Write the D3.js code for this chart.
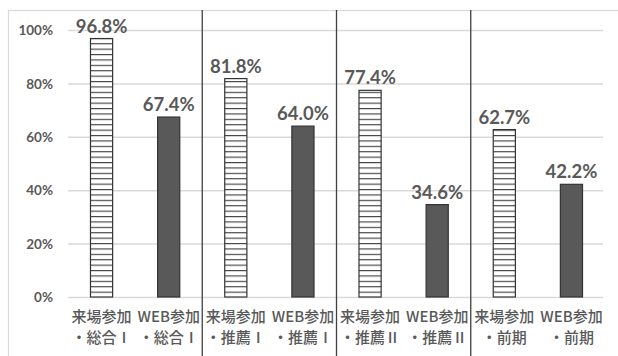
<!DOCTYPE html>
<html>
<head>
<meta charset="utf-8">
<script src="https://cdn.jsdelivr.net/npm/d3@7"></script>
<style>
  body { margin: 0; background: #fff; }
  .tick text { font-family: Lato, "Open Sans", sans-serif; font-weight: bold; font-size: 13.5px; fill: #595959; }
  .valLabel { font-family: Lato, "Open Sans", sans-serif; font-weight: bold; font-size: 18.5px; fill: #595959; }
  .catLabel { font-family: "Noto Sans CJK JP", sans-serif; font-weight: 500; font-size: 15px; fill: #595959; }
</style>
</head>
<body>
<svg id="myGraph" width="618" height="356"></svg>
<script>
// データ
var catLine1 = ["来場参加", "WEB参加", "来場参加", "WEB参加", "来場参加", "WEB参加", "来場参加", "WEB参加"];
var catLine2 = ["・総合Ⅰ", "・総合Ⅰ", "・推薦Ⅰ", "・推薦Ⅰ", "・推薦Ⅱ", "・推薦Ⅱ", "・前期", "・前期"];
var values = [96.8, 67.4, 81.8, 64.0, 77.4, 34.6, 62.7, 42.2];
var kinds = ["venue", "web", "venue", "web", "venue", "web", "venue", "web"];
var yTicks = [0, 20, 40, 60, 80, 100];

// レイアウト
var plotLeft = 68, plotRight = 605, plotTop = 30, plotBottom = 297;

var svg = d3.select("#myGraph");

// 外枠
svg.append("rect")
  .attr("x", 8.5).attr("y", 10.5)
  .attr("width", 700).attr("height", 400)
  .attr("fill", "none").attr("stroke", "#d9d9d9").attr("stroke-width", 1.2);

// ハッチング
var pat = svg.append("defs").append("pattern")
  .attr("id", "hatch")
  .attr("patternUnits", "userSpaceOnUse")
  .attr("width", 40).attr("height", 5.4);
pat.append("rect").attr("width", 40).attr("height", 5.4).attr("fill", "#fff");
pat.append("line")
  .attr("x1", 0).attr("x2", 40).attr("y1", 0.6).attr("y2", 0.6)
  .attr("stroke", "#404040").attr("stroke-width", 1.1);

var x = d3.scaleBand()
  .domain(d3.range(values.length))
  .range([plotLeft, plotRight])
  .paddingInner(0.67)
  .paddingOuter(0.335);

var y = d3.scaleLinear()
  .domain([0, 100])
  .range([plotBottom, plotTop]);

// 目盛り
var yAxis = d3.axisLeft(y)
  .tickValues(yTicks)
  .tickSize(-(plotRight - plotLeft - 2))
  .tickFormat(function(d){ return d + "%"; });

var g = svg.append("g")
  .attr("transform", "translate(" + plotLeft + ",0)")
  .call(yAxis);
g.select(".domain").remove();
g.selectAll(".tick line").attr("stroke", "#d9d9d9").attr("stroke-width", 1.5);
g.selectAll(".tick text").attr("x", -15).attr("dy", "0.35em");

// 区切り線
var step = (plotRight - plotLeft) / values.length;
d3.range(2, values.length, 2).forEach(function(i){
  svg.append("line")
    .attr("x1", plotLeft + i * step).attr("x2", plotLeft + i * step)
    .attr("y1", 10).attr("y2", 356)
    .attr("stroke", "#404040").attr("stroke-width", 1.3);
});

// 棒グラフ
svg.selectAll("rect.bar")
  .data(values)
  .enter()
  .append("rect")
  .attr("class", "bar")
  .attr("x", function(d, i){ return x(i); })
  .attr("y", function(d){ return y(d); })
  .attr("width", x.bandwidth())
  .attr("height", function(d){ return plotBottom - y(d); })
  .attr("fill", function(d, i){ return kinds[i] === "venue" ? "url(#hatch)" : "#595959"; })
  .attr("stroke", "#333")
  .attr("stroke-width", 1.2);

// 値ラベル
svg.selectAll("text.valLabel")
  .data(values)
  .enter()
  .append("text")
  .attr("class", "valLabel")
  .attr("x", function(d, i){ return x(i) + x.bandwidth() / 2; })
  .attr("y", function(d){ return y(d) - 6; })
  .attr("text-anchor", "middle")
  .text(function(d){ return d.toFixed(1) + "%"; });

// カテゴリラベル
var cats = svg.selectAll("text.catLabel")
  .data(values)
  .enter()
  .append("text")
  .attr("class", "catLabel")
  .attr("text-anchor", "middle");
cats.append("tspan")
  .attr("x", function(d, i){ return x(i) + x.bandwidth() / 2; })
  .attr("y", 322)
  .text(function(d, i){ return catLine1[i]; });
cats.append("tspan")
  .attr("x", function(d, i){ return x(i) + x.bandwidth() / 2; })
  .attr("y", 343)
  .text(function(d, i){ return catLine2[i]; });
</script>
</body>
</html>
